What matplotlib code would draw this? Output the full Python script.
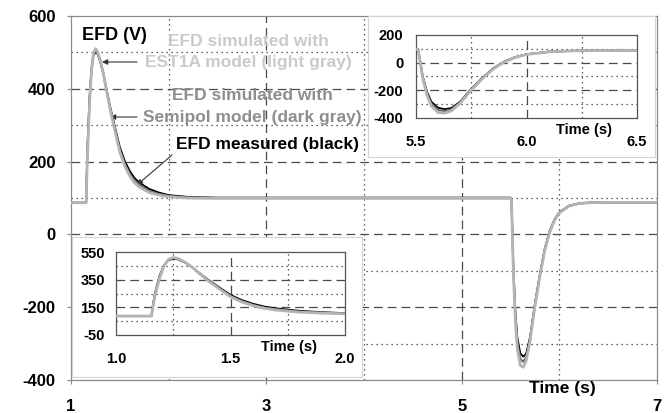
import matplotlib
matplotlib.use('Agg')
import matplotlib.pyplot as plt
from matplotlib.patches import Rectangle

plt.rcParams['font.family'] = ['Liberation Sans', 'DejaVu Sans']
plt.rcParams['font.weight'] = 'bold'

# ---------------- data ----------------
time_s = [1.00, 1.15, 1.155, 1.16, 1.17, 1.19, 1.21, 1.23, 1.25, 1.27, 1.30, 1.33,
          1.36, 1.40, 1.45, 1.50, 1.55, 1.60, 1.65, 1.70, 1.80, 1.90, 2.00, 2.20,
          2.50, 3.00, 4.00, 5.00, 5.50, 5.51, 5.53, 5.55, 5.57, 5.60, 5.63, 5.66,
          5.70, 5.75, 5.80, 5.85, 5.90, 5.95, 6.00, 6.10, 6.20, 6.30, 6.50, 7.00]

efd_measured = [87, 87, 87, 155, 250, 378, 455, 492, 500, 497, 474, 443,
                404, 352, 295, 240, 202, 175, 155, 142, 125, 115, 108, 103,
                101, 101, 101, 101, 101, 95, -95, -212, -283, -326, -336, -328,
                -282, -190, -110, -40, 9, 41, 61, 79, 85, 87, 88, 88]

efd_semipol = [87, 87, 87, 148, 240, 368, 452, 496, 505, 500, 476, 443,
               402, 348, 289, 232, 194, 167, 147, 135, 119, 111, 106, 101,
               100, 100, 100, 100, 100, 95, -102, -225, -298, -342, -350, -338,
               -288, -195, -114, -44, 6, 39, 60, 78, 85, 87, 88, 88]

efd_est1a = [87, 87, 87, 140, 228, 360, 450, 498, 510, 504, 478, 443,
             400, 344, 284, 226, 188, 161, 142, 130, 115, 108, 103, 100,
             99, 99, 99, 99, 99, 95, -110, -238, -315, -360, -365, -348,
             -293, -198, -116, -45, 5, 38, 59, 78, 85, 87, 88, 88]

main_xticks = [1, 3, 5, 7]
main_yticks = [-400, -200, 0, 200, 400, 600]
ins1_xticks = [5.5, 6.0, 6.5]
ins1_yticks = [-400, -200, 0, 200]
ins2_xticks = [1.0, 1.5, 2.0]
ins2_yticks = [-50, 150, 350, 550]

# ---------------- layout helpers ----------------
W, H = 669, 413
fig = plt.figure(figsize=(W / 100, H / 100), dpi=100)


def box(x0, y0, x1, y1):
    return [x0 / W, 1 - y1 / H, (x1 - x0) / W, (y1 - y0) / H]


DASH = dict(color='#4a4a4a', lw=0.9, ls=(0, (7, 4)), zorder=1)
DOT = dict(color='#333333', lw=0.9, ls=(0, (1, 3)), zorder=1)

C_LIGHT = '#b4b4b4'
C_DARK = '#6a6a6a'
C_BLACK = '#000000'


def plot_series(a):
    a.plot(time_s, efd_measured, color=C_BLACK, lw=1.3, zorder=3, solid_joinstyle='round')
    a.plot(time_s, efd_semipol, color=C_DARK, lw=1.5, zorder=4, solid_joinstyle='round')
    a.plot(time_s, efd_est1a, color=C_LIGHT, lw=2.0, zorder=5, solid_joinstyle='round')


def style_spines(a, color):
    for s in a.spines.values():
        s.set_color(color)
        s.set_linewidth(0.9)


# ---------------- main axes ----------------
ax = fig.add_axes(box(71, 16, 657, 380))
ax.set_xlim(1, 7)
ax.set_ylim(-400, 600)
for x in [3, 5]:
    ax.axvline(x, **DASH)
for x in [2, 4, 6]:
    ax.axvline(x, **DOT)
for y in [-200, 0, 200, 400]:
    ax.axhline(y, **DASH)
for y in [-300, -100, 100, 300, 500]:
    ax.axhline(y, **DOT)
plot_series(ax)
ax.set_xticks(main_xticks)
ax.set_yticks(main_yticks)
ax.set_xticklabels([str(v) for v in main_xticks])
ax.set_yticklabels([str(v) for v in main_yticks])
ax.tick_params(axis='y', length=3, pad=8, labelsize=12, color='#888888')
ax.tick_params(axis='x', length=3, pad=11, labelsize=12, color='#888888')
style_spines(ax, '#8a8a8a')

# white boxes behind the insets
for (x0, y0, x1, y1) in [(368, 16, 655, 157), (72, 237, 362, 377)]:
    ax.add_patch(Rectangle((x0 / W, 1 - y1 / H), (x1 - x0) / W, (y1 - y0) / H,
                           transform=fig.transFigure, facecolor='white',
                           edgecolor='#d4d4d4', lw=0.8, zorder=6))

fig.text(562 / W, 1 - 389 / H, 'Time (s)', ha='center', va='center', fontsize=12.5)
fig.text(82 / W, 1 - 35 / H, 'EFD (V)', ha='left', va='center', fontsize=13)

fig.text(248 / W, 1 - 42 / H, 'EFD simulated with', ha='center', va='center',
         fontsize=12.5, color='#cacaca')
fig.text(248 / W, 1 - 63 / H, 'EST1A model (light gray)', ha='center', va='center',
         fontsize=12.5, color='#cacaca')
fig.text(252 / W, 1 - 96 / H, 'EFD simulated with', ha='center', va='center',
         fontsize=12.5, color='#8e8e8e')
fig.text(252 / W, 1 - 117 / H, 'Semipol model (dark gray)', ha='center', va='center',
         fontsize=12.5, color='#8e8e8e')
fig.text(268 / W, 1 - 145 / H, 'EFD measured (black)', ha='center', va='center',
         fontsize=12.5, color='black')

arrow = dict(arrowstyle='-|>', color='#333333', lw=0.8, mutation_scale=8,
             shrinkA=0, shrinkB=0)
ax.annotate('', xy=(102, H - 62), xycoords='figure pixels',
            xytext=(137, H - 62), textcoords='figure pixels', arrowprops=arrow)
ax.annotate('', xy=(110, H - 117), xycoords='figure pixels',
            xytext=(137, H - 117), textcoords='figure pixels', arrowprops=arrow)
ax.annotate('', xy=(137, H - 185), xycoords='figure pixels',
            xytext=(172, H - 155), textcoords='figure pixels', arrowprops=arrow)

# ---------------- inset 1 (5.5 - 6.5 s) ----------------
a1 = fig.add_axes(box(416, 35, 637, 118))
a1.set_xlim(5.5, 6.5)
a1.set_ylim(-400, 200)
a1.axvline(6.0, **DASH)
for x in [5.75, 6.25]:
    a1.axvline(x, **DOT)
for y in [-200, 0]:
    a1.axhline(y, **DASH)
for y in [-300, -100, 100]:
    a1.axhline(y, **DOT)
plot_series(a1)
a1.set_xticks(ins1_xticks)
a1.set_xticklabels(['%.1f' % v for v in ins1_xticks])
a1.set_yticks(ins1_yticks)
a1.set_yticklabels([str(v) for v in ins1_yticks])
a1.tick_params(axis='y', length=0, pad=9, labelsize=10.5)
a1.tick_params(axis='x', length=0, pad=12, labelsize=10.5)
style_spines(a1, '#555555')
fig.text(584 / W, 1 - 130 / H, 'Time (s)', ha='center', va='center', fontsize=10.5)

# ---------------- inset 2 (1.0 - 2.0 s) ----------------
a2 = fig.add_axes(box(116, 252, 345, 335))
a2.set_xlim(1.0, 2.0)
a2.set_ylim(-50, 550)
a2.axvline(1.5, **DASH)
for x in [1.25, 1.75]:
    a2.axvline(x, **DOT)
for y in [150, 350]:
    a2.axhline(y, **DASH)
for y in [50, 250, 450]:
    a2.axhline(y, **DOT)
plot_series(a2)
a2.set_xticks(ins2_xticks)
a2.set_xticklabels(['%.1f' % v for v in ins2_xticks])
a2.set_yticks(ins2_yticks)
a2.set_yticklabels([str(v) for v in ins2_yticks])
a2.tick_params(axis='y', length=0, pad=8, labelsize=10.5)
a2.tick_params(axis='x', length=0, pad=12, labelsize=10.5)
style_spines(a2, '#555555')
fig.text(289 / W, 1 - 347 / H, 'Time (s)', ha='center', va='center', fontsize=10.5)

fig.savefig('out.png', dpi=100)
